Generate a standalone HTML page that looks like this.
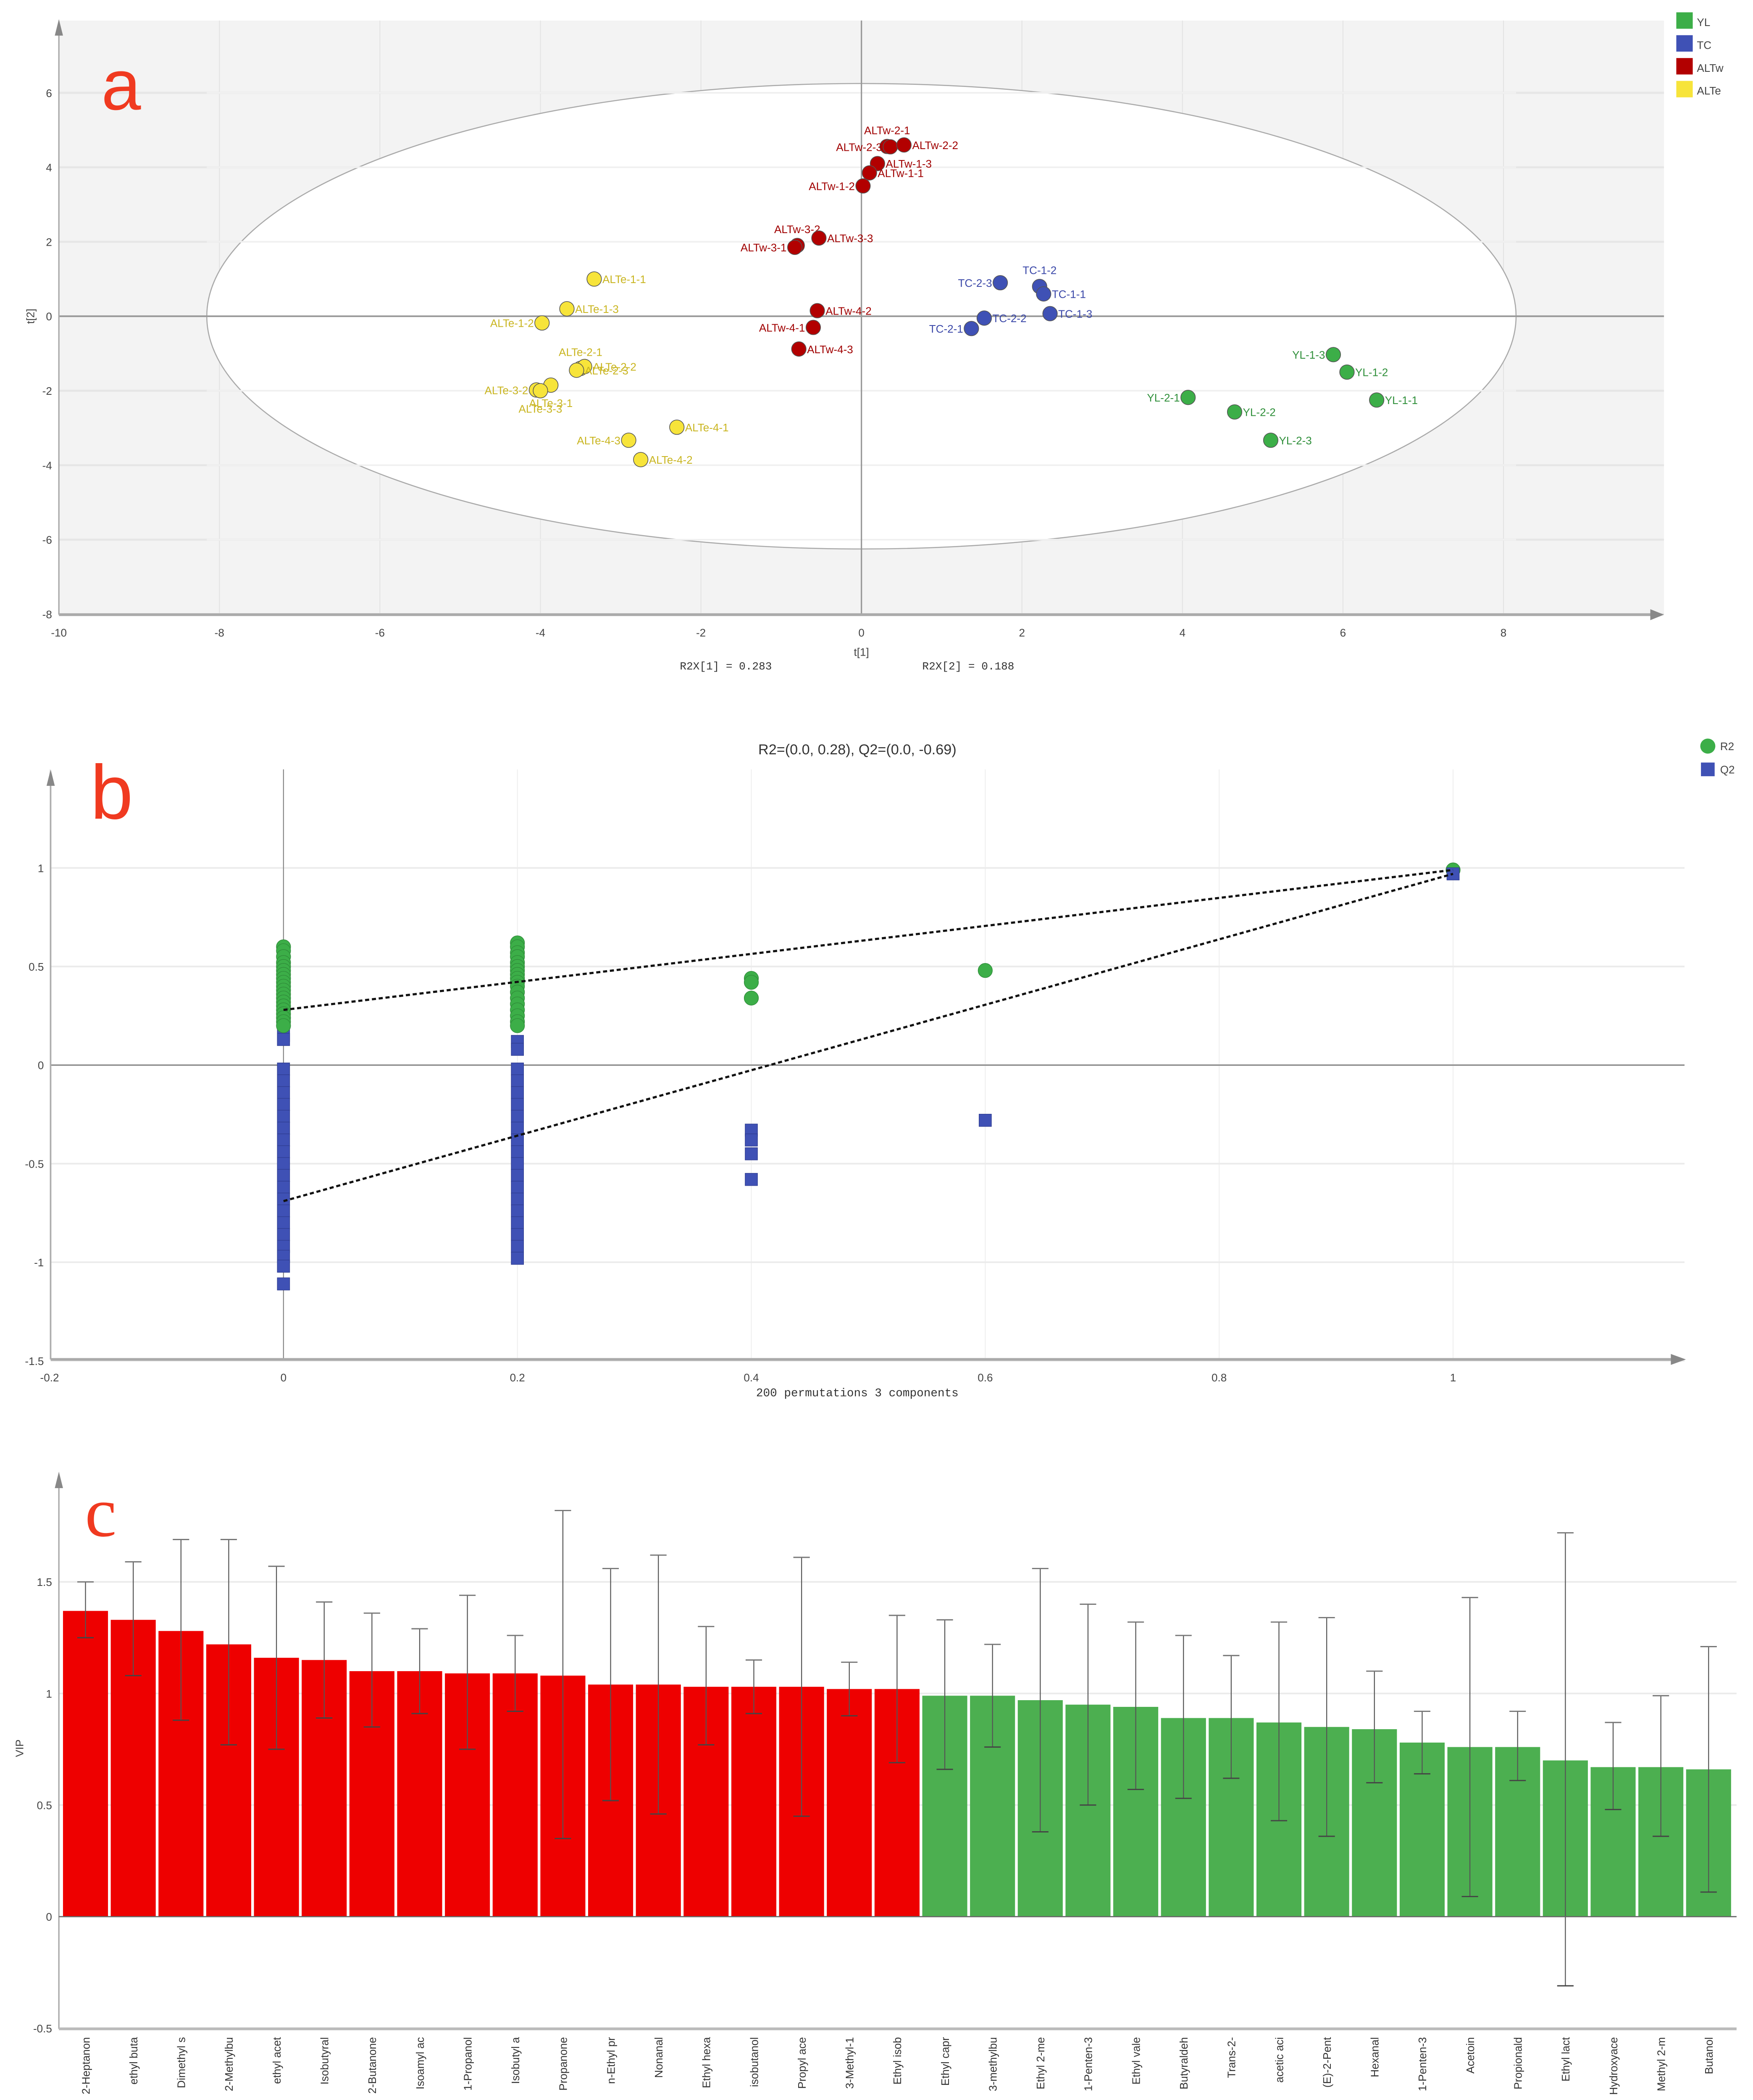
<!DOCTYPE html>
<html><head><meta charset="utf-8"><style>
html,body{margin:0;padding:0;background:#fff;width:4173px;height:5111px;overflow:hidden;}
svg{display:block;font-family:"Liberation Sans",sans-serif;}
</style></head><body>
<svg id="fig" width="4173" height="5111" viewBox="0 0 1280 1568" preserveAspectRatio="none" xmlns="http://www.w3.org/2000/svg">
<g id="pa"></g>
<g id="pb"></g>
<g id="pc"></g>
</svg>
<script>
// ---------- Panel A data ----------
const aNames=["ALTw-2-1","ALTw-2-3","ALTw-2-2","ALTw-1-3","ALTw-1-1","ALTw-1-2","ALTw-3-2","ALTw-3-1","ALTw-3-3","ALTw-4-2","ALTw-4-1","ALTw-4-3",
"TC-2-3","TC-1-2","TC-1-1","TC-1-3","TC-2-2","TC-2-1",
"YL-1-3","YL-1-2","YL-1-1","YL-2-1","YL-2-2","YL-2-3",
"ALTe-1-1","ALTe-1-3","ALTe-1-2","ALTe-2-1","ALTe-2-2","ALTe-2-3","ALTe-3-1","ALTe-3-2","ALTe-3-3","ALTe-4-1","ALTe-4-3","ALTe-4-2"];
const aGroup=["ALTw","ALTw","ALTw","ALTw","ALTw","ALTw","ALTw","ALTw","ALTw","ALTw","ALTw","ALTw","TC","TC","TC","TC","TC","TC","YL","YL","YL","YL","YL","YL","ALTe","ALTe","ALTe","ALTe","ALTe","ALTe","ALTe","ALTe","ALTe","ALTe","ALTe","ALTe"];
const aT1=[0.32,0.36,0.53,0.2,0.1,0.02,-0.8,-0.83,-0.53,-0.55,-0.6,-0.78, 1.73,2.22,2.27,2.35,1.53,1.37, 5.88,6.05,6.42,4.07,4.65,5.1, -3.33,-3.67,-3.98,-3.5,-3.45,-3.55,-3.87,-4.05,-4.0,-2.3,-2.9,-2.75];
const aT2=[4.56,4.55,4.6,4.1,3.85,3.5,1.9,1.85,2.1,0.15,-0.3,-0.88, 0.9,0.8,0.6,0.07,-0.05,-0.33, -1.03,-1.5,-2.25,-2.18,-2.57,-3.33, 1.0,0.2,-0.18,-1.4,-1.35,-1.45,-1.85,-1.98,-2.0,-2.98,-3.33,-3.85];
const aLabelSide=["t","l","r","r","r","l","t","l","r","r","l","r","l","t","r","r","r","l","l","r","r","l","r","r","r","r","l","t","r","r","b","l","b","r","l","r"];
const aXTicks=[-10,-8,-6,-4,-2,0,2,4,6,8];
const aYTicks=[-8,-6,-4,-2,0,2,4,6];
const groups=["YL","TC","ALTw","ALTe"];
const gFill={YL:"#3cae48",TC:"#3f51b5",ALTw:"#b20000",ALTe:"#f7e43a"};
const gText={YL:"#2f8f3a",TC:"#3a47a8",ALTw:"#a00000",ALTe:"#c9b520"};
// ---------- Panel B data ----------
const bR2x0=[0.6,0.58,0.55,0.52,0.5,0.48,0.46,0.44,0.42,0.4,0.38,0.36,0.34,0.32,0.3,0.28,0.26,0.24,0.22,0.2];
const bR2x2=[0.62,0.6,0.57,0.55,0.52,0.5,0.48,0.46,0.44,0.42,0.4,0.37,0.34,0.31,0.28,0.25,0.22,0.2];
const bQ2x0=[0.15,0.13,-0.02,-0.08,-0.14,-0.2,-0.26,-0.32,-0.38,-0.44,-0.5,-0.56,-0.62,-0.68,-0.74,-0.8,-0.86,-0.92,-0.97,-1.02,-1.11];
const bQ2x2=[0.12,0.08,-0.02,-0.08,-0.14,-0.2,-0.26,-0.32,-0.38,-0.44,-0.5,-0.56,-0.62,-0.68,-0.74,-0.8,-0.86,-0.92,-0.98];
const bR2x4=[0.44,0.42,0.34];
const bQ2x4=[-0.33,-0.38,-0.45,-0.58];
const bR2x6=[0.48];
const bQ2x6=[-0.28];
const bOrig=[0.99,0.97]; // R2, Q2 at x=1
const bIntercepts=[0.28,-0.69];
const bXTicks=[-0.2,0,0.2,0.4,0.6,0.8,1];
const bYTicks=[-1.5,-1,-0.5,0,0.5,1];
// ---------- Panel C data ----------
const cNames=["2-Heptanon","ethyl buta","Dimethyl s","2-Methylbu","ethyl acet","Isobutyral","2-Butanone","Isoamyl ac","1-Propanol","Isobutyl a","Propanone","n-Ethyl pr","Nonanal","Ethyl hexa","isobutanol","Propyl ace","3-Methyl-1","Ethyl isob","Ethyl capr","3-methylbu","Ethyl 2-me","1-Penten-3","Ethyl vale","Butyraldeh","Trans-2-","acetic aci","(E)-2-Pent","Hexanal","1-Penten-3","Acetoin","Propionald","Ethyl lact","Hydroxyace","Methyl 2-m","Butanol"];
const cVIP=[1.37,1.33,1.28,1.22,1.16,1.15,1.10,1.10,1.09,1.09,1.08,1.04,1.04,1.03,1.03,1.03,1.02,1.02,0.99,0.99,0.97,0.95,0.94,0.89,0.89,0.87,0.85,0.84,0.78,0.76,0.76,0.70,0.67,0.67,0.66];
const cLo=[1.25,1.08,0.88,0.77,0.75,0.89,0.85,0.91,0.75,0.92,0.35,0.52,0.46,0.77,0.91,0.45,0.90,0.69,0.66,0.76,0.38,0.50,0.57,0.53,0.62,0.43,0.36,0.60,0.64,0.09,0.61,-0.31,0.48,0.36,0.11];
const cHi=[1.50,1.59,1.69,1.69,1.57,1.41,1.36,1.29,1.44,1.26,1.82,1.56,1.62,1.30,1.15,1.61,1.14,1.35,1.33,1.22,1.56,1.40,1.32,1.26,1.17,1.32,1.34,1.10,0.92,1.43,0.92,1.72,0.87,0.99,1.21];
const cRedCount=18;
const cYTicks=[-0.5,0,0.5,1,1.5];

const NS="http://www.w3.org/2000/svg";
function mk(parent,tag,attrs,text){const e=document.createElementNS(NS,tag);for(const k in attrs)e.setAttribute(k,attrs[k]);if(text!==undefined)e.textContent=text;parent.appendChild(e);return e;}

// ===== Panel A =====
(function(){
const g=document.getElementById('pa');
const xA=v=>629+v*58.6, yA=v=>231-v*27.2;
let e=mk(g,'rect',{x:43,y:15,width:1172,height:434,fill:'#f3f3f3'});

aXTicks.forEach(t=>{let l=mk(g,'line',{x1:xA(t),x2:xA(t),y1:15,y2:449,stroke:'#e2e2e2','stroke-width':0.6});});
aYTicks.forEach(t=>{let l=mk(g,'line',{x1:43,x2:1215,y1:yA(t),y2:yA(t),stroke:'#e6e6e6','stroke-width':1.5});});
e=mk(g,'ellipse',{cx:629,cy:231,rx:478,ry:170,fill:'#fff',stroke:'#aaa','stroke-width':0.8});

aYTicks.forEach(t=>{let l=mk(g,'line',{x1:151,x2:1107,y1:yA(t),y2:yA(t),stroke:'#f0f0f0','stroke-width':1.2});});
e=mk(g,'line',{x1:43,x2:1215,y1:yA(0),y2:yA(0),stroke:'#999','stroke-width':1.2});
e=mk(g,'line',{x1:xA(0),x2:xA(0),y1:15,y2:449,stroke:'#999','stroke-width':1});
e=mk(g,'line',{x1:43,x2:1212,y1:449,y2:449,stroke:'#aaa','stroke-width':2});
e=mk(g,'path',{d:'M1205,445 L1215,449 L1205,453 Z',fill:'#888'});
e=mk(g,'line',{x1:43,x2:43,y1:18,y2:449,stroke:'#aaa','stroke-width':1});
e=mk(g,'path',{d:'M40,26 L43,14 L46,26 Z',fill:'#888'});
aXTicks.forEach(t=>{let tx=mk(g,'text',{x:xA(t),y:465,'font-size':8,fill:'#444','text-anchor':'middle'},String(t));});
aYTicks.forEach(t=>{let tx=mk(g,'text',{x:38,y:yA(t)+3,'font-size':8,fill:'#444','text-anchor':'end'},String(t));});
e=mk(g,'text',{x:629,y:479,'font-size':8,fill:'#444','text-anchor':'middle'},'t[1]');
e=mk(g,'text',{x:25,y:231,'font-size':8,fill:'#444','text-anchor':'middle',transform:'rotate(-90 25 231)'},'t[2]');
e=mk(g,'text',{x:530,y:489,'font-size':8,fill:'#333','text-anchor':'middle','font-family':'Liberation Mono, monospace'},'R2X[1] = 0.283');
e=mk(g,'text',{x:707,y:489,'font-size':8,fill:'#333','text-anchor':'middle','font-family':'Liberation Mono, monospace'},'R2X[2] = 0.188');
e=mk(g,'text',{x:74,y:80,'font-size':52,fill:'#f03a20'},'a');
aNames.forEach((n,i)=>{
 const cx=xA(aT1[i]),cy=yA(aT2[i]),gr=aGroup[i];
 let c=mk(g,'circle',{cx:cx,cy:cy,r:5.3,fill:gFill[gr],stroke:'#555','stroke-width':0.5});
 
 const s=aLabelSide[i];let lx=cx+6,ly=cy+3,anc='start';
 if(s==='l'){lx=cx-6;anc='end';} else if(s==='t'){lx=cx;ly=cy-9;anc='middle';} else if(s==='b'){lx=cx;ly=cy+16;anc='middle';}
 let t=mk(g,'text',{x:lx,y:ly,'font-size':8,fill:gText[gr],'text-anchor':anc},n);
 
});
groups.forEach((gr,i)=>{
 let r=mk(g,'rect',{x:1224,y:9+i*16.7,width:12,height:12,fill:gFill[gr]});
 let t=mk(g,'text',{x:1239,y:19+i*16.7,'font-size':8,fill:'#444'},gr);
});
})();

// ===== Panel B =====
(function(){
const g=document.getElementById('pb');
const xB=v=>207+v*854, yB=v=>778-v*144;
bXTicks.forEach(t=>{let l=mk(g,'line',{x1:xB(t),x2:xB(t),y1:562,y2:993,stroke:'#eee','stroke-width':0.6});});
bYTicks.forEach(t=>{let l=mk(g,'line',{x1:37,x2:1230,y1:yB(t),y2:yB(t),stroke:'#ebebeb','stroke-width':1.2});});
let e=mk(g,'line',{x1:37,x2:1230,y1:yB(0),y2:yB(0),stroke:'#777','stroke-width':0.8});
e=mk(g,'line',{x1:xB(0),x2:xB(0),y1:562,y2:993,stroke:'#888','stroke-width':0.7});
e=mk(g,'line',{x1:37,x2:1222,y1:993,y2:993,stroke:'#aaa','stroke-width':2});
e=mk(g,'path',{d:'M1220,989 L1231,993 L1220,997 Z',fill:'#888'});
e=mk(g,'line',{x1:37,x2:37,y1:570,y2:993,stroke:'#aaa','stroke-width':1});
e=mk(g,'path',{d:'M34,574 L37,562 L40,574 Z',fill:'#888'});
bXTicks.forEach(t=>{let tx=mk(g,'text',{x:xB(t),y:1009,'font-size':8,fill:'#444','text-anchor':'middle'},String(t));});
bYTicks.forEach(t=>{let tx=mk(g,'text',{x:32,y:yB(t)+3,'font-size':8,fill:'#444','text-anchor':'end'},String(t));});
e=mk(g,'text',{x:626,y:1020,'font-size':8.5,fill:'#333','text-anchor':'middle','font-family':'Liberation Mono, monospace'},'200 permutations 3 components');
e=mk(g,'text',{x:626,y:551,'font-size':10.5,fill:'#333','text-anchor':'middle'},'R2=(0.0, 0.28), Q2=(0.0, -0.69)');
e=mk(g,'text',{x:66,y:598,'font-size':56,fill:'#f03a20'},'b');
function sq(x,v){let r=mk(g,'rect',{x:xB(x)-4.5,y:yB(v)-4.5,width:9,height:9,fill:'#3f51b5',stroke:'#2e3c90','stroke-width':0.4});}
function ci(x,v){let c=mk(g,'circle',{cx:xB(x),cy:yB(v),r:5.2,fill:'#3cae48',stroke:'#2e8a38','stroke-width':0.4});}
bQ2x0.forEach(v=>sq(0,v));bQ2x2.forEach(v=>sq(0.2,v));bQ2x4.forEach(v=>sq(0.4,v));bQ2x6.forEach(v=>sq(0.6,v));
bR2x0.forEach(v=>ci(0,v));bR2x2.forEach(v=>ci(0.2,v));bR2x4.forEach(v=>ci(0.4,v));bR2x6.forEach(v=>ci(0.6,v));
ci(1,bOrig[0]);sq(1,bOrig[1]);
e=mk(g,'line',{x1:xB(0),y1:yB(bIntercepts[0]),x2:xB(1),y2:yB(bOrig[0]),stroke:'#111','stroke-width':1.6,'stroke-dasharray':'3,2'});
e=mk(g,'line',{x1:xB(0),y1:yB(bIntercepts[1]),x2:xB(1),y2:yB(bOrig[1]),stroke:'#111','stroke-width':1.6,'stroke-dasharray':'3,2'});
e=mk(g,'circle',{cx:1247,cy:545,r:5.5,fill:'#3cae48'});
e=mk(g,'text',{x:1256,y:548,'font-size':8,fill:'#444'},'R2');
e=mk(g,'rect',{x:1242,y:557,width:10,height:10,fill:'#3f51b5'});
e=mk(g,'text',{x:1256,y:565,'font-size':8,fill:'#444'},'Q2');
})();

// ===== Panel C =====
(function(){
const g=document.getElementById('pc');
const x0=45,x1=1265,bw=(x1-x0)/cNames.length;
const yC=v=>1400-v*163;
cYTicks.forEach(t=>{let l=mk(g,'line',{x1:43,x2:1268,y1:yC(t),y2:yC(t),stroke:'#ebebeb','stroke-width':1.2});});
let e=mk(g,'line',{x1:43,x2:43,y1:1085,y2:1482,stroke:'#aaa','stroke-width':1});
e=mk(g,'path',{d:'M40,1087 L43,1075 L46,1087 Z',fill:'#888'});
e=mk(g,'line',{x1:43,x2:1268,y1:1482,y2:1482,stroke:'#bbb','stroke-width':2});
cYTicks.forEach(t=>{let tx=mk(g,'text',{x:38,y:yC(t)+3,'font-size':8,fill:'#444','text-anchor':'end'},String(t));});
e=mk(g,'text',{x:17,y:1277,'font-size':8,fill:'#444','text-anchor':'middle',transform:'rotate(-90 17 1277)'},'VIP');
e=mk(g,'text',{x:655,y:1552,'font-size':8.5,fill:'#444','text-anchor':'middle'},'Var ID (Primary)');
e=mk(g,'text',{x:62,y:1122,'font-size':52,fill:'#f03a20','font-family':'Liberation Serif, serif'},'c');
cNames.forEach((n,i)=>{
 const bx=x0+i*bw, col=i<cRedCount?'#ee0000':'#4caf50';
 let r=mk(g,'rect',{x:bx+1,y:yC(cVIP[i]),width:bw-2,height:yC(0)-yC(cVIP[i]),fill:col});
 
 const cx=bx+bw/2;
 let l=mk(g,'line',{x1:cx,x2:cx,y1:yC(cHi[i]),y2:yC(cLo[i]),stroke:'#555','stroke-width':0.7});
 let c1=mk(g,'line',{x1:cx-6,x2:cx+6,y1:yC(cHi[i]),y2:yC(cHi[i]),stroke:'#777','stroke-width':0.9});
 let c2=mk(g,'line',{x1:cx-6,x2:cx+6,y1:yC(cLo[i]),y2:yC(cLo[i]),stroke:'#444','stroke-width':0.9});
 let t=mk(g,'text',{x:cx+3,y:1488,'font-size':8,fill:'#333','text-anchor':'end',transform:'rotate(-90 '+(cx+3)+' 1488)'},n);
 
});
e=mk(g,'line',{x1:43,x2:1268,y1:yC(0),y2:yC(0),stroke:'#666','stroke-width':0.8});
})();
</script>
</body></html>
